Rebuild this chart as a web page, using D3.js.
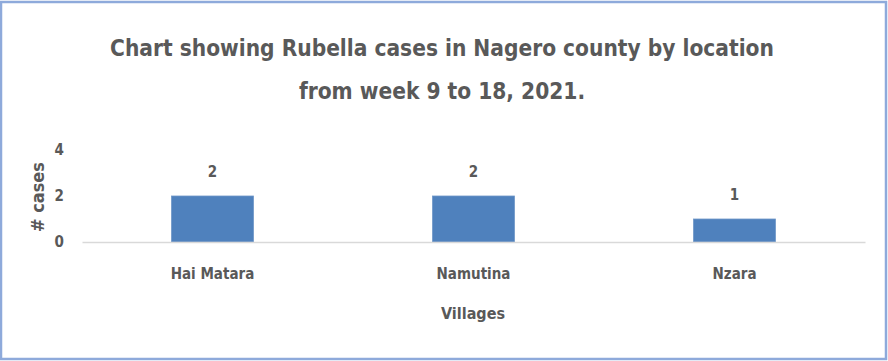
<!DOCTYPE html>
<html>
<head>
<meta charset="utf-8">
<script src="https://cdn.jsdelivr.net/npm/d3@7"></script>
<style>
  html, body { margin: 0; padding: 0; background: #fff; }
  svg { display: block; }
  text { font-family: "DejaVu Sans Condensed", "Liberation Sans Narrow", sans-serif; fill: #595959; font-weight: bold; }
</style>
</head>
<body>
<svg id="chart" width="888" height="361"></svg>
<script>
// chart data
const villages = ["Hai Matara", "Namutina", "Nzara"];
const cases = [2, 2, 1];
const yTicks = [0, 2, 4];
const titleLines = ["Chart showing Rubella cases in Nagero county by location", "from week 9 to 18, 2021."];

const fontStack = '"DejaVu Sans Condensed", "Liberation Sans Narrow", sans-serif';
const svg = d3.select('#chart');
const width = 888, height = 361;
const margin = { top: 150, right: 23, bottom: 119, left: 82 }; // plot area 82..865 x 150..242

// frame around the chart
svg.append('rect')
    .attr('x', 1).attr('y', 2)
    .attr('width', width - 3).attr('height', height - 4)
    .attr('fill', 'white')
    .attr('stroke', '#8eaadb')
    .attr('stroke-width', 2.5);

// title
svg.append('g').selectAll('text')
    .data(titleLines)
    .join('text')
    .attr('x', 442)
    .attr('y', (d, i) => 56 + i * 43)
    .attr('text-anchor', 'middle')
    .style('font-size', '22.5px')
    .text(d => d);

const innerW = width - margin.left - margin.right;
const innerH = height - margin.top - margin.bottom;
const g = svg.append('g').attr('transform', `translate(${margin.left},${margin.top})`);

const x = d3.scaleBand()
    .domain(villages)
    .range([0, innerW])
    .paddingInner(0.686)
    .paddingOuter(0.343);

const y = d3.scaleLinear()
    .domain([0, 4])
    .range([innerH, 0]);

// bars
g.selectAll('rect.bar')
    .data(villages)
    .join('rect')
    .attr('class', 'bar')
    .attr('x', d => x(d))
    .attr('y', (d, i) => y(cases[i]))
    .attr('width', x.bandwidth())
    .attr('height', (d, i) => y(0) - y(cases[i]))
    .attr('fill', '#4f81bd')
    .attr('stroke', '#6f97c8')
    .attr('stroke-width', 0.8);

// value labels
g.selectAll('text.val')
    .data(villages)
    .join('text')
    .attr('class', 'val')
    .attr('x', d => x(d) + x.bandwidth() / 2)
    .attr('y', (d, i) => y(cases[i]) - 19)
    .attr('text-anchor', 'middle')
    .style('font-size', '15px')
    .text((d, i) => cases[i]);

// x axis: baseline + category labels
const xAxis = g.append('g')
    .attr('transform', `translate(0,${innerH})`)
    .call(d3.axisBottom(x).tickSize(0).tickPadding(26));
xAxis.select('.domain').attr('stroke', '#d9d9d9').attr('stroke-width', 1.5);
xAxis.selectAll('text')
    .style('font-size', '15px')
    .attr('fill', '#595959')
    .style('font-family', fontStack);

// y axis: labels only
const yAxis = g.append('g')
    .call(d3.axisLeft(y).tickValues(yTicks).tickFormat(d3.format('d')).tickSize(0).tickPadding(18));
yAxis.select('.domain').remove();
yAxis.selectAll('text')
    .style('font-size', '15px')
    .attr('fill', '#595959')
    .style('font-family', fontStack);

// axis titles
svg.append('text')
    .attr('x', 473)
    .attr('y', 319)
    .attr('text-anchor', 'middle')
    .style('font-size', '16px')
    .text('Villages');

svg.append('text')
    .attr('transform', 'translate(44,197) rotate(-90)')
    .attr('text-anchor', 'middle')
    .style('font-size', '18px')
    .text('# cases');
</script>
</body>
</html>
